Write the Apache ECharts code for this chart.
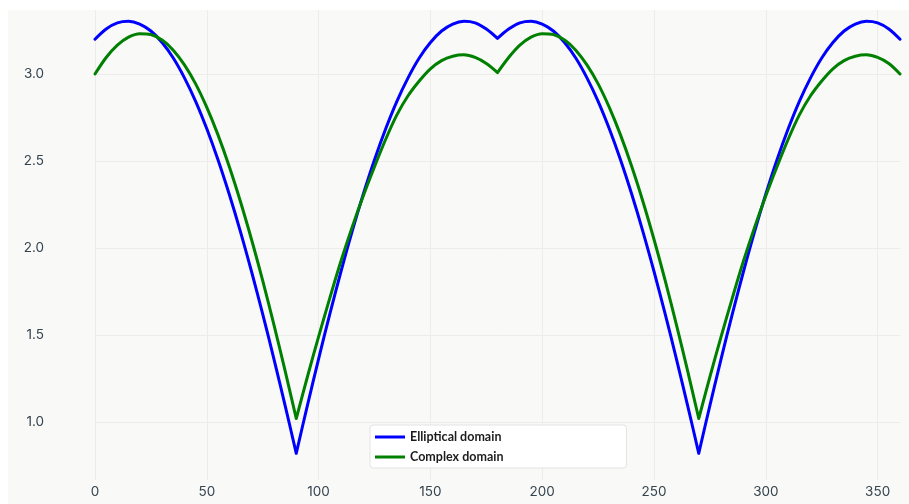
<!DOCTYPE html>
<html>
<head>
<meta charset="utf-8">
<script src="https://cdn.jsdelivr.net/npm/echarts@6/dist/echarts.min.js"></script>
<style>
  html, body { margin: 0; padding: 0; background: #ffffff; width: 909px; height: 504px; overflow: hidden; }
  #chart { position: absolute; left: 8px; top: 10px; width: 901px; height: 494px; }
</style>
</head>
<body>
<div id="chart"></div>
<script>
// Angle in degrees
const angles = [
  0, 5, 10, 15, 20, 25, 30, 35, 40, 45, 50, 55, 60, 65, 70, 75, 80, 85, 90,
  95, 100, 105, 110, 115, 120, 125, 130, 135, 140, 145, 150, 155, 160, 165, 170, 175, 180,
  185, 190, 195, 200, 205, 210, 215, 220, 225, 230, 235, 240, 245, 250, 255, 260, 265, 270,
  275, 280, 285, 290, 295, 300, 305, 310, 315, 320, 325, 330, 335, 340, 345, 350, 355, 360
];

// Elliptical domain
const ellipticalDomain = [
  3.200, 3.259, 3.294, 3.303, 3.287, 3.247, 3.181, 3.092, 2.978, 2.843, 2.685, 2.507, 2.310, 2.096, 1.865, 1.620, 1.363, 1.096, 0.820,
  1.096, 1.363, 1.620, 1.865, 2.096, 2.310, 2.507, 2.685, 2.843, 2.978, 3.092, 3.181, 3.247, 3.287, 3.303, 3.294, 3.259, 3.205,
  3.259, 3.294, 3.303, 3.287, 3.247, 3.181, 3.092, 2.978, 2.843, 2.685, 2.507, 2.310, 2.096, 1.865, 1.620, 1.363, 1.096, 0.820,
  1.096, 1.363, 1.620, 1.865, 2.096, 2.310, 2.507, 2.685, 2.843, 2.978, 3.092, 3.181, 3.247, 3.287, 3.303, 3.294, 3.259, 3.200
];

// Complex domain
const complexDomain = [
  3.000, 3.095, 3.166, 3.212, 3.232, 3.227, 3.195, 3.137, 3.052, 2.943, 2.808, 2.650, 2.470, 2.269, 2.049, 1.812, 1.560, 1.295, 1.020,
  1.260, 1.491, 1.712, 1.925, 2.120, 2.300, 2.467, 2.625, 2.765, 2.875, 2.960, 3.030, 3.077, 3.102, 3.110, 3.095, 3.060, 3.008,
  3.095, 3.166, 3.212, 3.232, 3.227, 3.195, 3.137, 3.052, 2.943, 2.808, 2.650, 2.470, 2.269, 2.049, 1.812, 1.560, 1.295, 1.020,
  1.260, 1.491, 1.712, 1.925, 2.120, 2.300, 2.467, 2.625, 2.765, 2.875, 2.960, 3.030, 3.077, 3.102, 3.110, 3.095, 3.060, 3.000
];

// Angles where both curves have a sharp corner (kept unsmoothed)
const cuspAngles = [90, 180, 270];

const seriesNames = ['Elliptical domain', 'Complex domain'];
const seriesColors = ['#0000ff', '#008000'];

const xTickLabels = [0, 50, 100, 150, 200, 250, 300, 350];
const yTickLabels = ['1.0', '1.5', '2.0', '2.5', '3.0'];

const chart = echarts.init(document.getElementById('chart'), null, { renderer: 'canvas' });

const labelColor = '#34444e';
const gridColor = '#ececea';

// Build [angle, value] pairs; the curve is split at each cusp so that
// smoothing stays within the smooth arcs and the corners stay sharp.
function toPairs(values) {
  const pts = [];
  angles.forEach((a, i) => {
    pts.push([a, values[i]]);
    if (cuspAngles.indexOf(a) >= 0) {
      pts.push([a, '-']);
      pts.push([a, values[i]]);
    }
  });
  return pts;
}

function lineSeries(idx, values) {
  return {
    name: seriesNames[idx],
    type: 'line',
    data: toPairs(values),
    symbol: 'none',
    showSymbol: false,
    smooth: 0.33,
    connectNulls: false,
    itemStyle: { color: seriesColors[idx] },
    lineStyle: { color: seriesColors[idx], width: 3, join: 'round', cap: 'round' }
  };
}

const option = {
  backgroundColor: '#f9f9f8',
  animation: false,
  textStyle: { fontFamily: 'Inter' },
  grid: {
    left: 87, right: 9, top: 0, bottom: 24,
    containLabel: false,
    outerBoundsMode: 'none'
  },
  xAxis: {
    type: 'value',
    min: 0,
    max: 360,
    interval: 50,
    axisLine: { show: false },
    axisTick: { show: false },
    axisLabel: {
      color: labelColor,
      fontFamily: 'Inter',
      fontSize: 13.5,
      margin: 5,
      showMaxLabel: false,
      formatter: v => (xTickLabels.indexOf(v) >= 0 ? String(v) : '')
    },
    splitLine: { show: true, showMaxLine: false, lineStyle: { color: gridColor, width: 1 } }
  },
  yAxis: {
    type: 'value',
    min: 3 - 406 / 174,
    max: 3 + 64 / 174,
    axisLine: { show: false },
    axisTick: { show: false },
    axisLabel: {
      color: labelColor,
      fontFamily: 'Inter',
      fontSize: 13.5,
      margin: 51,
      showMinLabel: false,
      showMaxLabel: false,
      formatter: v => {
        const s = v.toFixed(1);
        return (yTickLabels.indexOf(s) >= 0 && Math.abs(v * 2 - Math.round(v * 2)) < 1e-6) ? s : '';
      }
    },
    splitLine: { show: true, showMinLine: false, showMaxLine: false, lineStyle: { color: gridColor, width: 1 } }
  },
  legend: {
    orient: 'vertical',
    left: 362,
    top: 415,
    icon: 'rect',
    itemWidth: 30,
    itemHeight: 3,
    itemGap: 6,
    backgroundColor: '#ffffff',
    borderColor: '#e3e3e3',
    borderWidth: 1,
    borderRadius: 3,
    padding: [5, 123, 4, 5],
    textStyle: {
      fontFamily: 'Lato',
      fontWeight: 'bold',
      fontSize: 12.5,
      lineHeight: 14,
      color: '#1c1c1c'
    },
    data: seriesNames
  },
  series: [
    lineSeries(0, ellipticalDomain),
    lineSeries(1, complexDomain)
  ]
};

chart.setOption(option);
</script>
</body>
</html>
